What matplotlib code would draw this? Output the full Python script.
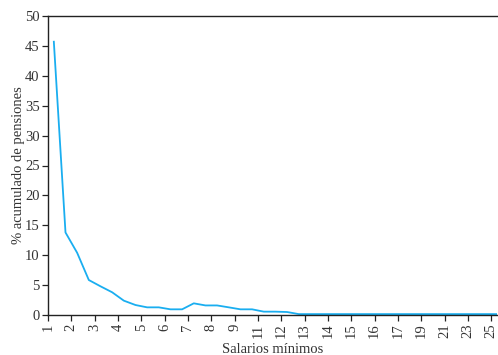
import matplotlib.pyplot as plt
import numpy as np

# x tick labels (one every two data points)
tick_labels = ['1', '2', '3', '4', '5', '6', '7', '8', '9', '11', '12',
               '13', '14', '15', '16', '17', '19', '21', '23', '25']

# % acumulado de pensiones
pct = [45.7, 13.8, 10.4, 5.85, 4.8, 3.8, 2.4, 1.67, 1.28, 1.28,
       0.95, 0.95, 1.95, 1.6, 1.6, 1.28, 0.95, 0.95, 0.56, 0.56,
       0.5, 0.15, 0.15, 0.15, 0.15, 0.15, 0.15, 0.15, 0.15, 0.15,
       0.15, 0.15, 0.15, 0.15, 0.15, 0.15, 0.15, 0.15, 0.15]

plt.rcParams['font.family'] = ['Liberation Serif', 'DejaVu Serif']

fig = plt.figure(figsize=(4.98, 3.55), dpi=100)
ax = fig.add_axes([48 / 498, 40 / 355, 449 / 498, 299 / 355])

x = np.arange(len(pct)) + 0.5
ax.plot(x, pct, color='#1aaef0', lw=1.3)

ax.set_xlim(0, 38.5)
ax.set_ylim(0, 50)
ax.set_yticks(range(0, 51, 5))
ax.set_xticks(np.arange(len(tick_labels)) * 2)
ax.set_xticklabels(tick_labels, rotation=90)

ax.spines['right'].set_visible(False)
for s in ['left', 'top', 'bottom']:
    ax.spines[s].set_color('#222222')
    ax.spines[s].set_linewidth(1.0)

ax.tick_params(axis='both', direction='out', length=4, width=0.9,
               colors='#222222', labelsize=10.5, labelcolor='#333333', pad=2)

ax.set_ylabel('% acumulado de pensiones', fontsize=10.5, color='#333333', labelpad=0)
ax.set_xlabel('Salarios mínimos', fontsize=10.5, color='#333333', labelpad=3.5)

fig.savefig('out.png', dpi=100)
